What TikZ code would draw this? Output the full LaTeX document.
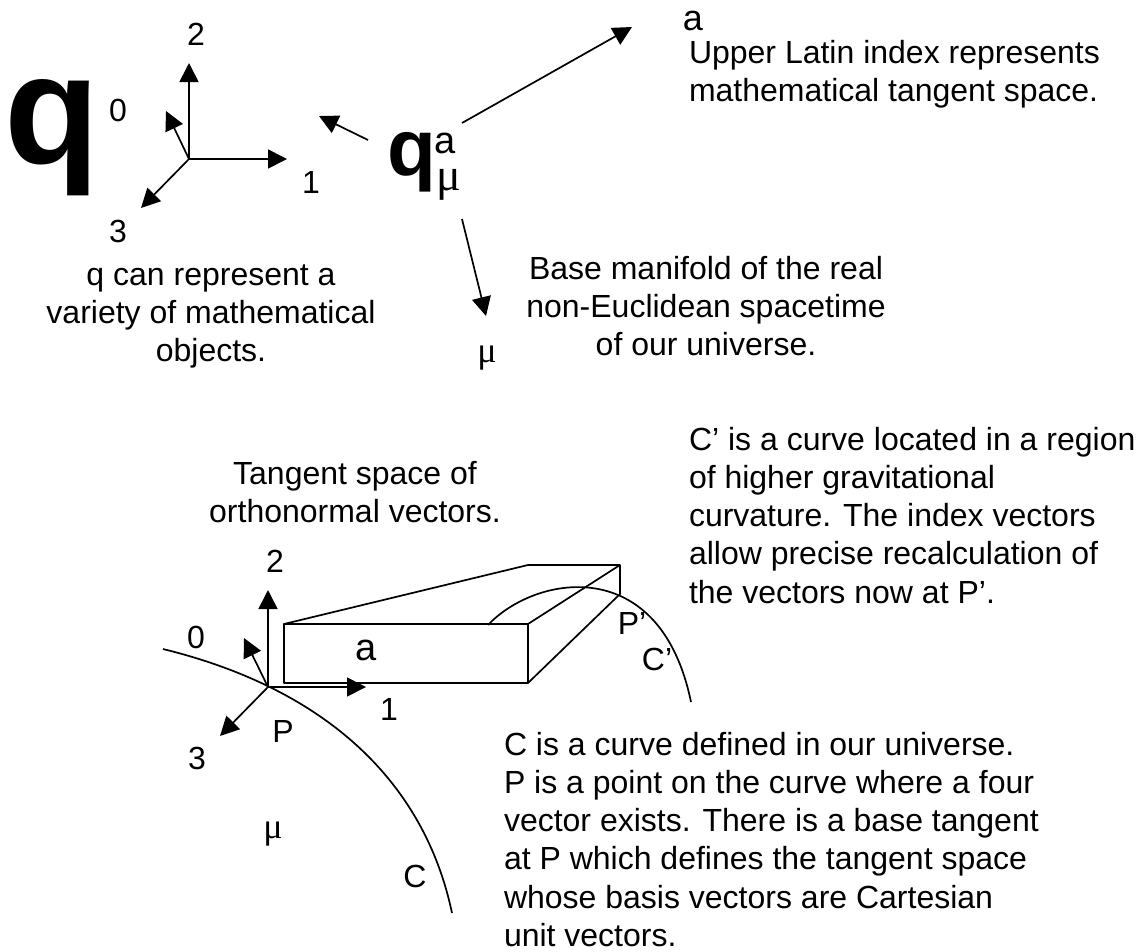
\documentclass[tikz,border=0pt]{standalone}
\usepackage{fontspec}
\setmainfont{Liberation Sans}
\newfontfamily\serfam{Liberation Serif}
\usetikzlibrary{arrows.meta}
\newcommand\firstln{\rule{0pt}{24pt}}
\tikzset{
  ln/.style={line width=1.7pt,black},
  arr/.style={ln,-{Triangle[length=19pt,width=19pt]}},
  body/.style={inner sep=0pt,outer sep=0pt,align=center,anchor=north,font=\fontsize{32}{38.3}\selectfont},
  lft/.style={inner sep=0pt,outer sep=0pt,align=left,anchor=north west,font=\fontsize{32}{38.3}\selectfont},
  lab/.style={inner sep=0pt,outer sep=0pt,anchor=base,font=\fontsize{32}{36}\selectfont},
  mulab/.style={inner sep=0pt,outer sep=0pt,anchor=base,font=\serfam\fontsize{36}{38}\selectfont},
}
\begin{document}
\begin{tikzpicture}[x=1pt,y=-1pt]
\useasboundingbox (0,0) rectangle (1143,951);
% top axes
\coordinate (o1) at (189,159);
\coordinate (t2a) at (189,63);
\coordinate (t1a) at (287,159);
\coordinate (t3a) at (141,208);
\coordinate (t0a) at (166,111);
\draw[arr] (o1) -- (t2a);
\draw[arr] (o1) -- (t1a);
\draw[arr] (o1) -- (t3a);
\draw[arr] (o1) -- (t0a);
\node[lab] (l2a) at (196,45) {2};
\node[lab] (l0a) at (118,121) {0};
\node[lab] (l1a) at (311,193) {1};
\node[lab] (l3a) at (118,242) {3};
\node[inner sep=0pt,anchor=base west,font=\bfseries\fontsize{156}{160}\selectfont] (bigq) at (4,163) {q};
% q^a_mu
\node[inner sep=0pt,anchor=base west,font=\bfseries\fontsize{80}{80}\selectfont] (smq) at (387,175) {q};
\node[inner sep=0pt,anchor=base west,font=\fontsize{38}{38}\selectfont] (supa) at (434,153) {a};
\node[inner sep=0pt,anchor=base west,font=\serfam\fontsize{46}{46}\selectfont] (submu) at (436,190) {μ};
\coordinate (f1) at (368,140);
\coordinate (e1) at (319,116);
\coordinate (f2) at (462,123);
\coordinate (e2) at (632,27);
\coordinate (f3) at (462,219);
\coordinate (e3) at (486,316);
\draw[arr] (f1) -- (e1);
\draw[arr] (f2) -- (e2);
\draw[arr] (f3) -- (e3);
\node[lab,font=\fontsize{36}{38}\selectfont] (la) at (693,30) {a};
\node[mulab] (lmu) at (487,362) {μ};
\node[lft] (t1) at (689,39) {\firstln Upper Latin index represents\\mathematical tangent space.};
\node[body] (t2) at (211,261) {\firstln q can represent a\\variety of mathematical\\objects.};
\node[body] (t3) at (706,255) {\firstln Base manifold of the real\\non-Euclidean spacetime\\of our universe.};
\node[body] (t4) at (355,460) {\firstln Tangent space of\\orthonormal vectors.};
\node[lft] (t5) at (689,426) {\firstln C’ is a curve located in a region\\of higher gravitational\\curvature.  The index vectors\\allow precise recalculation of\\the vectors now at P’.};
\node[lft] (t6) at (504,731) {\firstln C is a curve defined in our universe.\\P is a point on the curve where a four\\vector exists.  There is a base tangent\\at P which defines the tangent space\\whose basis vectors are Cartesian\\unit vectors.};
% lower axes
\coordinate (o2) at (268,687);
\coordinate (t2b) at (268,590);
\coordinate (t1b) at (366,687);
\coordinate (t3b) at (220,736);
\coordinate (t0b) at (244,638);
\draw[arr] (o2) -- (t2b);
\draw[arr] (o2) -- (t1b);
\draw[arr] (o2) -- (t3b);
\draw[arr] (o2) -- (t0b);
\node[lab] (l2b) at (275,572) {2};
\node[lab] (l0b) at (196,648) {0};
\node[lab] (l1b) at (389,720) {1};
\node[lab] (l3b) at (197,769) {3};
\node[lab] (lP) at (283,742) {P};
\node[lab] (lPp) at (632,634) {P’};
\node[lab] (lCp) at (657,670) {C’};
\node[lab] (lC) at (415,887) {C};
\node[mulab] (lmu2) at (273,838) {μ};
\node[lab,font=\fontsize{38}{40}\selectfont] (la2) at (366,660) {a};
% box
\coordinate (b1) at (284,624);
\coordinate (b2) at (528,624);
\coordinate (b3) at (528,683);
\coordinate (b4) at (284,683);
\coordinate (b5) at (528,565);
\coordinate (b6) at (620,565);
\coordinate (b7) at (620,594);
\draw[ln,line join=round] (b1) -- (b2) -- (b3) -- (b4) -- cycle;
\draw[ln,line join=round] (b1) -- (b5) -- (b6) -- (b7) -- (b3);
\draw[ln] (b2) -- (b6);
% curves
\coordinate (c1) at (163,649);
\coordinate (c2) at (452,913);
\draw[ln] (c1) .. controls (330,690) and (425,785) .. (c2);
\coordinate (d1) at (488,625);
\coordinate (d2) at (691,702);
\draw[ln] (d1) .. controls (535,575) and (660,552) .. (d2);
\end{tikzpicture}
\end{document}
